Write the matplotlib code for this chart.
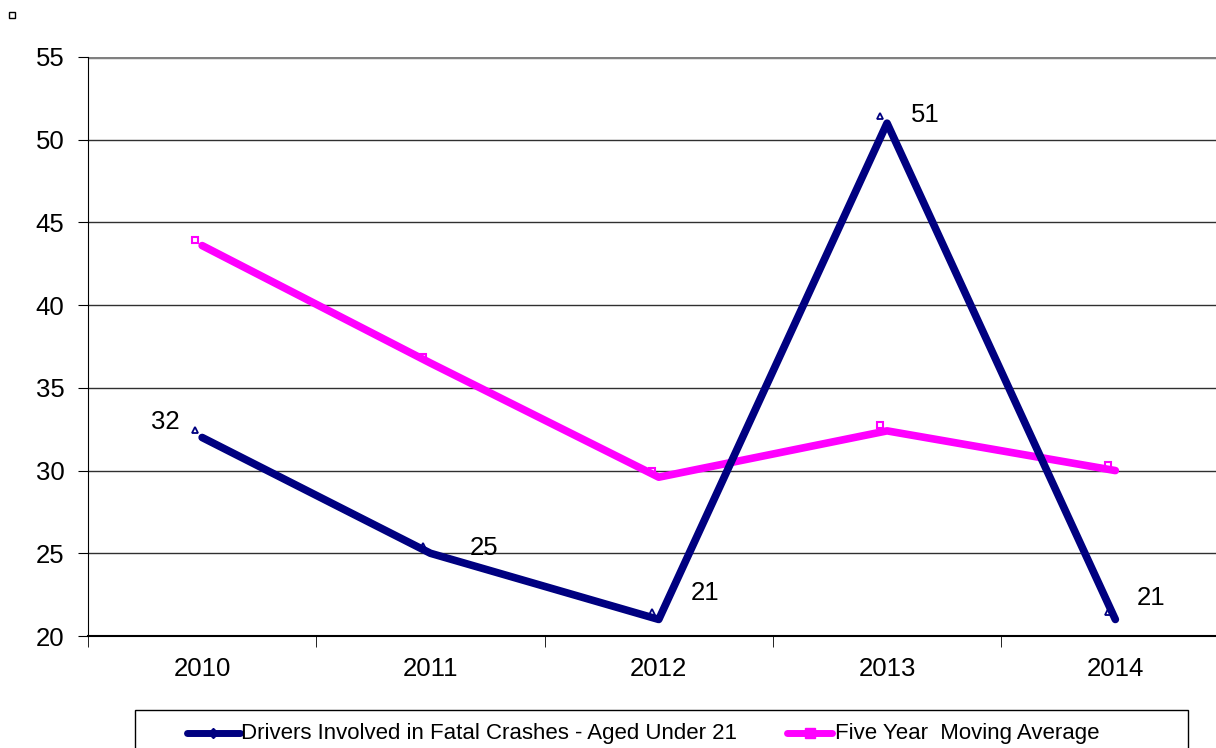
import matplotlib
matplotlib.use("Agg")
import matplotlib.pyplot as plt
from matplotlib.lines import Line2D
from matplotlib.patches import Rectangle
from matplotlib.transforms import offset_copy

plt.rcParams['font.family'] = ['Liberation Sans', 'DejaVu Sans']

years = ['2010', '2011', '2012', '2013', '2014']
drivers = [32, 25, 21, 51, 21]
moving_avg = [43.6, 36.5, 29.6, 32.4, 30.0]
yticks = [20, 25, 30, 35, 40, 45, 50, 55]
label_offsets = [(-37, 15), (54, 5), (46, 26), (38, 8), (36, 21)]

W, H = 1216, 748
fig = plt.figure(figsize=(W / 100, H / 100), dpi=100)
ax = fig.add_axes([88 / W, (H - 636) / H, (W - 88) / W, (636 - 57) / H])

x = list(range(len(years)))
ax.plot(x, moving_avg, color='#FF00FF', lw=5.5, solid_capstyle='round', zorder=3)
ax.plot(x, drivers, color='#000080', lw=5.5, solid_capstyle='round', zorder=4)

# small, slightly offset markers as in the original rendering
tr_pink = offset_copy(ax.transData, fig=fig, x=-7, y=6, units='dots')
ax.plot(x, moving_avg, ls='none', marker='s', markersize=5, markerfacecolor='white',
        markeredgecolor='#FF00FF', markeredgewidth=1.5, transform=tr_pink, zorder=2)
tr_blue = offset_copy(ax.transData, fig=fig, x=-7, y=7, units='dots')
ax.plot(x, drivers, ls='none', marker='^', markersize=4.5, markerfacecolor='white',
        markeredgecolor='#000080', markeredgewidth=1.3, transform=tr_blue, zorder=2)

for xi, v, (dx, dy) in zip(x, drivers, label_offsets):
    ax.annotate(str(v), (xi, v), xytext=(dx, dy), textcoords='offset pixels',
                ha='center', va='center', fontsize=18.5, color='black')

ax.set_yticks(yticks)
ax.set_yticklabels([str(t) for t in yticks], fontsize=18.5)
ax.set_xticks(x)
ax.set_xticklabels(years, fontsize=18.5)
ax.set_xticks([i - 0.5 for i in range(len(years) + 1)], minor=True)
ax.set_ylim(20, 55)
ax.set_xlim(-0.5, -0.5 + (W - 88) / 228.3)
ax.tick_params(axis='x', which='major', length=0, pad=15)
ax.tick_params(axis='x', which='minor', length=8, direction='out', color='black')
ax.tick_params(axis='y', length=7, direction='out', color='black', pad=10)

for t in yticks[1:]:
    ax.axhline(t, color='#808080' if t == 55 else '#303030',
               lw=2.5 if t == 55 else 1, zorder=1)

for s in ['top', 'right']:
    ax.spines[s].set_visible(False)
ax.spines['left'].set_color('black')
ax.spines['bottom'].set_color('black')
ax.spines['bottom'].set_linewidth(1.5)

# legend drawn in figure pixel coordinates
def fx(px):
    return px / W

def fy(py):
    return 1 - py / H

fig.add_artist(Rectangle((fx(135), fy(760)), fx(1188) - fx(135), fy(710) - fy(760),
                         transform=fig.transFigure, fill=False, edgecolor='black', lw=1))
ly = fy(733)
fig.add_artist(Line2D([fx(187), fx(240)], [ly, ly], transform=fig.transFigure,
                      color='#000080', lw=5, solid_capstyle='round'))
fig.add_artist(Line2D([fx(213)], [ly], transform=fig.transFigure, color='#000080',
                      marker='D', markersize=5))
fig.text(fx(241), ly, 'Drivers Involved in Fatal Crashes - Aged Under 21',
         fontsize=16, va='center', ha='left')
fig.add_artist(Line2D([fx(787), fx(832)], [ly, ly], transform=fig.transFigure,
                      color='#FF00FF', lw=5, solid_capstyle='round'))
fig.add_artist(Line2D([fx(810)], [ly], transform=fig.transFigure, color='#FF00FF',
                      marker='s', markersize=6.5))
fig.text(fx(835), ly, 'Five Year  Moving Average', fontsize=16, va='center', ha='left')

fig.add_artist(Rectangle((fx(9), fy(18)), fx(6), fy(0) - fy(6), transform=fig.transFigure,
                         fill=False, edgecolor='black', lw=1))

fig.savefig('out.png', dpi=100)
